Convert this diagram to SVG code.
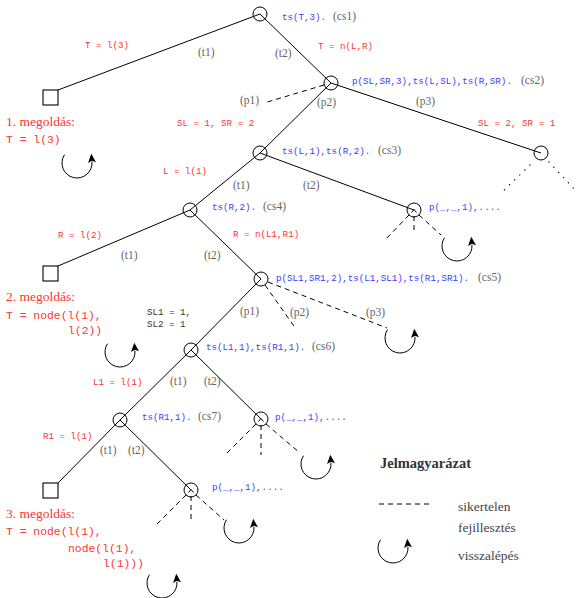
<svg xmlns="http://www.w3.org/2000/svg" width="576" height="598" viewBox="0 0 576 598">
<style>
.ln{stroke:#000;stroke-width:1;fill:none}
.ds{stroke:#000;stroke-width:1;fill:none;stroke-dasharray:5,4}
.dt{stroke:#000;stroke-width:1.3;fill:none;stroke-dasharray:0.1,7;stroke-linecap:round}
.nd{stroke:#000;stroke-width:1;fill:none}
.lf{stroke:#000;stroke-width:1.1;fill:#fff}
.b{font-family:"Liberation Mono",monospace;font-size:9.2px;fill:#3c3cff}
.r{font-family:"Liberation Mono",monospace;font-size:9.2px;fill:#ff3333}
.k{font-family:"Liberation Mono",monospace;font-size:9.2px;fill:#333}
.g{font-family:"Liberation Serif",serif;font-size:11.5px;fill:#666}
.a{font-family:"Liberation Mono",monospace;font-size:11.4px;fill:#ff3333}
.h{font-family:"Liberation Serif",serif;font-size:13.5px;fill:#ff3333}
.lg{font-family:"Liberation Serif",serif;font-size:13.5px;fill:#444}
.lb{font-family:"Liberation Serif",serif;font-size:14.5px;font-weight:bold;fill:#333}
</style>
<defs>
<marker id="ah" viewBox="0 -5 10 10" refX="1" refY="0" markerWidth="10" markerHeight="10" markerUnits="userSpaceOnUse" orient="auto" overflow="visible">
<path d="M 9,0 L 0,-4 L 2,0 L 0,4 Z" fill="#000"/>
</marker>
<g id="back"><path d="M -12.5,-8.3 A 15 15 0 1 0 14.94,-1.3" class="ln" marker-end="url(#ah)"/></g>
<g id="chev"><path d="M -2.5,2.5 L 0,-0.5 L 2.5,2.5" class="ln"/></g>
</defs>

<g id="connectors">
<line class="ln" x1="260" y1="14" x2="58" y2="90"/>
<line class="ln" x1="260" y1="14" x2="331" y2="83"/>
<line class="ln" x1="331" y1="83" x2="260" y2="153"/>
<line class="ln" x1="331" y1="83" x2="541" y2="153"/>
<line class="ds" x1="324" y1="85" x2="264" y2="103"/>
<line class="dt" x1="530" y1="165" x2="501" y2="193"/>
<line class="dt" x1="549" y1="162" x2="575" y2="190"/>
<line class="ln" x1="260" y1="153" x2="190" y2="210"/>
<line class="ln" x1="260" y1="153" x2="414" y2="210"/>
<line class="ds" x1="409" y1="215" x2="387" y2="238"/>
<line class="ds" x1="414" y1="216" x2="414" y2="233"/>
<line class="ds" x1="419" y1="215" x2="441" y2="235"/>
<line class="ln" x1="190" y1="210" x2="58" y2="266"/>
<line class="ln" x1="190" y1="210" x2="261" y2="279"/>
<line class="ln" x1="261" y1="279" x2="191" y2="350"/>
<line class="ds" x1="265" y1="285" x2="296" y2="329"/>
<line class="ds" x1="268" y1="282" x2="387" y2="328"/>
<line class="ln" x1="191" y1="350" x2="120" y2="420"/>
<line class="ln" x1="191" y1="350" x2="261" y2="419"/>
<line class="ds" x1="256" y1="424" x2="225" y2="455"/>
<line class="ds" x1="261" y1="425" x2="261" y2="455"/>
<line class="ds" x1="266" y1="424" x2="300" y2="453"/>
<line class="ln" x1="120" y1="420" x2="58" y2="483"/>
<line class="ln" x1="120" y1="420" x2="191" y2="490"/>
<line class="ds" x1="186" y1="495" x2="156" y2="525"/>
<line class="ds" x1="191" y1="496" x2="191" y2="523"/>
<line class="ds" x1="196" y1="495" x2="224" y2="520"/>
</g>

<g id="cs1"><circle class="nd" cx="260" cy="14" r="7"/><text class="b" x="282" y="20">ts(T,3).</text><text class="g" x="333" y="20">(cs1)</text></g>
<g id="cs2"><circle class="nd" cx="331" cy="83" r="7"/><text class="b" x="352" y="84">p(SL,SR,3),ts(L,SL),ts(R,SR).</text><text class="g" x="521" y="84">(cs2)</text></g>
<g id="n_p3"><circle class="nd" cx="541" cy="153" r="7"/></g>
<g id="cs3"><circle class="nd" cx="260" cy="153" r="7"/><text class="b" x="282" y="154">ts(L,1),ts(R,2).</text><text class="g" x="378" y="154">(cs3)</text></g>
<g id="n_cs3t2"><circle class="nd" cx="414" cy="210" r="7"/><use href="#chev" x="414" y="210"/><text class="b" x="429" y="210">p(_,_,1),....</text></g>
<g id="cs4"><circle class="nd" cx="190" cy="210" r="7"/><text class="b" x="212" y="210">ts(R,2).</text><text class="g" x="263" y="210">(cs4)</text></g>
<g id="cs5"><circle class="nd" cx="261" cy="279" r="7"/><text class="b" x="276" y="281">p(SL1,SR1,2),ts(L1,SL1),ts(R1,SR1).</text><text class="g" x="478" y="281">(cs5)</text></g>
<g id="cs6"><circle class="nd" cx="191" cy="350" r="7"/><text class="b" x="206" y="350">ts(L1,1),ts(R1,1).</text><text class="g" x="312" y="350">(cs6)</text></g>
<g id="n_cs6t2"><circle class="nd" cx="261" cy="419" r="7"/><use href="#chev" x="261" y="419"/><text class="b" x="275" y="420">p(_,_,1),....</text></g>
<g id="cs7"><circle class="nd" cx="120" cy="420" r="7"/><text class="b" x="142" y="420">ts(R1,1).</text><text class="g" x="198" y="420">(cs7)</text></g>
<g id="n_cs7t2"><circle class="nd" cx="191" cy="490" r="7"/><use href="#chev" x="191" y="490"/><text class="b" x="212" y="490">p(_,_,1),....</text></g>

<g id="leaf1"><rect class="lf" x="43" y="90" width="15" height="15"/><text class="h" x="6" y="126">1. megoldás:</text><text class="a" x="6" y="143">T = l(3)</text></g>
<g id="leaf2"><rect class="lf" x="43" y="266" width="15" height="15"/><text class="h" x="6" y="301">2. megoldás:</text><text class="a" x="6" y="319">T = node(l(1),</text><text class="a" x="68" y="334">l(2))</text></g>
<g id="leaf3"><rect class="lf" x="43" y="483" width="15" height="15"/><text class="h" x="6" y="518">3. megoldás:</text><text class="a" x="6" y="535">T = node(l(1),</text><text class="a" x="68" y="552">node(l(1),</text><text class="a" x="103" y="567">l(1)))</text></g>

<g id="backtracks">
<use href="#back" x="77" y="163"/>
<use href="#back" x="120" y="352"/>
<use href="#back" x="400" y="338"/>
<use href="#back" x="457" y="246"/>
<use href="#back" x="316" y="464"/>
<use href="#back" x="239" y="528"/>
<use href="#back" x="162" y="583"/>
</g>

<g id="edge-labels">
<text class="r" x="85" y="48">T = l(3)</text>
<text class="r" x="318" y="49">T = n(L,R)</text>
<text class="r" x="177" y="126">SL = 1, SR = 2</text>
<text class="r" x="478" y="126">SL = 2, SR = 1</text>
<text class="r" x="163" y="174">L = l(1)</text>
<text class="r" x="58" y="238">R = l(2)</text>
<text class="r" x="233" y="237">R = n(L1,R1)</text>
<text class="r" x="93" y="385">L1 = l(1)</text>
<text class="r" x="43" y="439">R1 = l(1)</text>
<text class="k" x="147" y="315">SL1 = 1,</text>
<text class="k" x="147" y="327">SL2 = 1</text>
<text class="g" x="198" y="56">(t1)</text>
<text class="g" x="275" y="57">(t2)</text>
<text class="g" x="240" y="104">(p1)</text>
<text class="g" x="317" y="106">(p2)</text>
<text class="g" x="416" y="105">(p3)</text>
<text class="g" x="233" y="189">(t1)</text>
<text class="g" x="303" y="189">(t2)</text>
<text class="g" x="121" y="259">(t1)</text>
<text class="g" x="204" y="259">(t2)</text>
<text class="g" x="240" y="315">(p1)</text>
<text class="g" x="290" y="316">(p2)</text>
<text class="g" x="366" y="316">(p3)</text>
<text class="g" x="170" y="385">(t1)</text>
<text class="g" x="204" y="385">(t2)</text>
<text class="g" x="100" y="454">(t1)</text>
<text class="g" x="128" y="454">(t2)</text>
</g>

<g id="legend">
<text class="lb" x="380" y="468">Jelmagyarázat</text>
<line class="ds" x1="379" y1="504" x2="432" y2="504"/>
<text class="lg" x="458" y="511">sikertelen</text>
<text class="lg" x="458" y="532">fejillesztés</text>
<use href="#back" x="393" y="548"/>
<text class="lg" x="458" y="560">visszalépés</text>
</g>
</svg>
